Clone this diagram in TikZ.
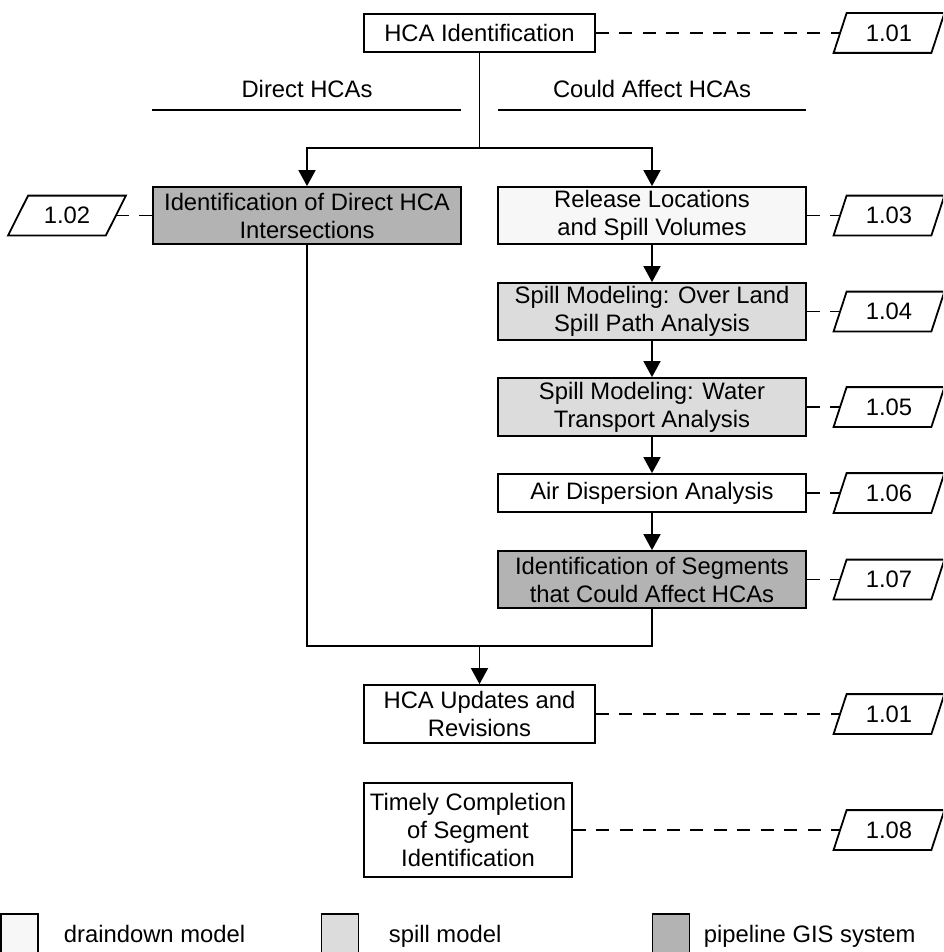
\documentclass[tikz,border=0pt]{standalone}
\usepackage{fontspec}
\setmainfont{Liberation Sans}
\usetikzlibrary{arrows.meta}
\definecolor{draindown}{HTML}{F7F7F7}
\definecolor{spillfill}{HTML}{DCDCDC}
\definecolor{gisfill}{HTML}{B3B3B3}
\begin{document}
\begin{tikzpicture}[x=1pt,y=-1pt,
  font=\fontsize{23.8}{28}\selectfont,
  line width=1.8pt,
  procbox/.style 2 args={draw, line width=1.8pt, inner sep=0pt, align=center,
    minimum width=#1, minimum height=#2},
  codelabel/.style={inner sep=0pt, minimum width=96, minimum height=38},
  flow/.style={line width=1.8pt, -{Triangle[width=17pt,length=16pt]}},
  link/.style={line width=1.8pt, dash pattern=on 13pt off 10.5pt},
  legbox/.style={draw, line width=1.8pt, minimum width=37, minimum height=46, inner sep=0pt},
  legtext/.style={anchor=base west, inner sep=0pt},
  heading/.style={anchor=base, inner sep=0pt}]
\useasboundingbox (0,0) rectangle (943,952);
\fill[white] (0,0) rectangle (943,952);
\clip (0,0) rectangle (943,952);

% process boxes
\node[procbox={231}{38}] (hcaid) at (479.5,33) {HCA Identification};
\node[procbox={308}{57}, fill=gisfill] (direct) at (307,215.5) {Identification of Direct HCA\\Intersections};
\node[procbox={308}{57}, fill=draindown] (release) at (652,215.5) {Release Locations\\and Spill Volumes};
\node[procbox={308}{57}, fill=spillfill] (overland) at (652,311.5) {Spill Modeling: Over Land\\Spill Path Analysis};
\node[procbox={308}{58}, fill=spillfill] (water) at (652,407) {Spill Modeling: Water\\Transport Analysis};
\node[procbox={308}{38}] (air) at (652,493) {Air Dispersion Analysis};
\node[procbox={308}{57}, fill=gisfill] (segments) at (652,579.5) {Identification of Segments\\that Could Affect HCAs};
\node[procbox={231}{58}] (updates) at (479.5,714) {HCA Updates and\\Revisions};
\node[procbox={208}{94}] (timely) at (468,830) {Timely Completion\\of Segment\\Identification};

% column headings
\node[heading] (dhead) at (307,98) {Direct HCAs};
\node[heading] (chead) at (652,98) {Could Affect HCAs};
\draw (152,110) -- (461,110);
\draw (498,110) -- (806,110);

% reference codes
\node[codelabel] (c101a) at (889,33) {1.01};
\node[codelabel] (c102) at (67,215.5) {1.02};
\node[codelabel] (c103) at (889,215.5) {1.03};
\node[codelabel] (c104) at (889,311.5) {1.04};
\node[codelabel] (c105) at (889,407) {1.05};
\node[codelabel] (c106) at (889,493) {1.06};
\node[codelabel] (c107) at (889,579.5) {1.07};
\node[codelabel] (c101b) at (889,714) {1.01};
\node[codelabel] (c108) at (889,830) {1.08};
\foreach \c/\s in {c101a/6.5, c102/10, c103/6.5, c104/6.5, c105/6.5, c106/6.5,
                   c107/6.5, c101b/6.5, c108/6.5}
  \draw ([xshift=-\s pt]\c.south west) -- ([xshift=\s pt]\c.north west)
     -- ([xshift=\s pt]\c.north east) -- ([xshift=-\s pt]\c.south east) -- cycle;

% main flow
\coordinate (split) at (479.5,148);
\coordinate (join) at (479.5,646);
\draw (hcaid.south) -- (split);
\draw[flow] (split) -| (direct.north);
\draw[flow] (split) -| (release.north);
\draw[flow] (release) -- (overland);
\draw[flow] (overland) -- (water);
\draw[flow] (water) -- (air);
\draw[flow] (air) -- (segments);
\draw (direct.south) |- (join);
\draw (segments.south) |- (join);
\draw[flow] (join) -- (updates.north);

% links to reference codes
\draw[link] (hcaid.east) -- (c101a.west);
\draw[link] (direct.west) -- (c102.east);
\draw[link] (release.east) -- (c103.west);
\draw[link] (overland.east) -- (c104.west);
\draw[link] (water.east) -- (c105.west);
\draw[link] (air.east) -- (c106.west);
\draw[link] (segments.east) -- (c107.west);
\draw[link] (updates.east) -- (c101b.west);
\draw[link] (timely.east) -- (c108.west);

% legend
\node[legbox, fill=draindown] (lg1) at (19.5,937) {};
\node[legtext] (lt1) at (63,942) {draindown model};
\node[legbox, fill=spillfill] (lg2) at (340,937) {};
\node[legtext] (lt2) at (388,942) {spill model};
\node[legbox, fill=gisfill] (lg3) at (671,937) {};
\node[legtext] (lt3) at (703,942) {pipeline GIS system};
\end{tikzpicture}
\end{document}
